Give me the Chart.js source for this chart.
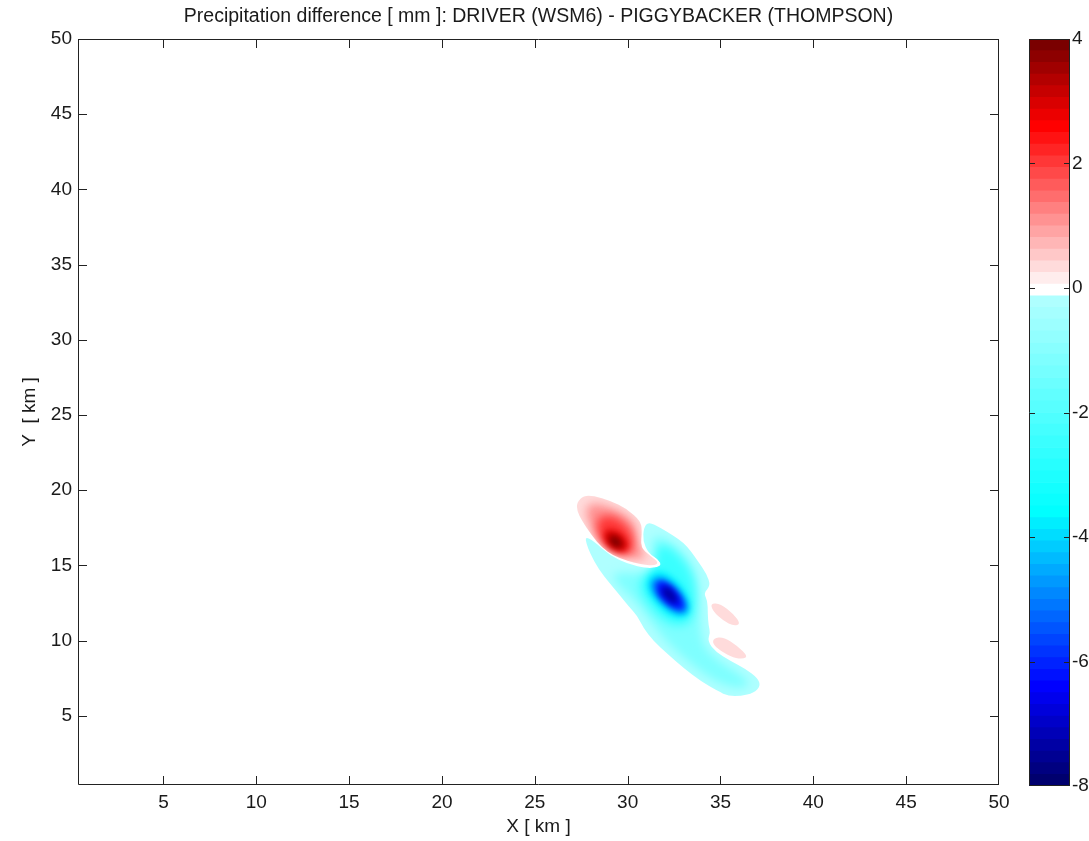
<!DOCTYPE html>
<html>
<head>
<meta charset="utf-8">
<title>Precipitation difference</title>
<script src="https://cdn.jsdelivr.net/npm/chart.js@4.4.1/dist/chart.umd.min.js"></script>
<style>
  html, body { margin: 0; padding: 0; background: #fff; }
  #wrap { position: relative; width: 1089px; height: 841px; overflow: hidden; }
  #field { position: absolute; left: 0; top: 0; }
  #bar { position: absolute; left: 1010px; top: 0; }
</style>
</head>
<body>
<div id="wrap">
  <canvas id="field" width="1010" height="841"></canvas>
  <canvas id="bar" width="79" height="841"></canvas>
</div>
<script>
// axis ticks
const xTicks = [5, 10, 15, 20, 25, 30, 35, 40, 45, 50]
const yTicks = [5, 10, 15, 20, 25, 30, 35, 40, 45, 50]
const barTicks = [-8, -6, -4, -2, 0, 2, 4]

// colour scale: 64 contour levels between -8 and 4 mm
const levelMin = -8
const levelMax = 4
const levelCount = 64

// positive difference cell (outer contour first, then towards the core)
const redLevels = [0.3, 1.0, 2.0, 3.0, 3.9]
const redRing0 = [[27.27, 19.19], [27.63, 19.63], [28.17, 19.63], [29.07, 19.30], [29.97, 18.75], [30.69, 17.97], [30.78, 17.30], [30.69, 16.19], [31.23, 15.64], [31.68, 15.19], [31.41, 14.97], [30.69, 15.08], [29.97, 15.30], [29.25, 15.64], [28.62, 16.19], [28.08, 16.97], [27.54, 17.97], [27.27, 18.63]]
const redRing1 = [[27.78, 18.97], [28.32, 19.17], [29.18, 18.83], [29.99, 18.30], [30.48, 17.63], [30.48, 16.50], [31.01, 15.57], [30.69, 15.37], [29.88, 15.57], [29.18, 15.90], [28.53, 16.50], [28.10, 17.30], [27.78, 18.23]]
const redRing2 = [[28.42, 18.30], [29.34, 18.30], [30.15, 17.44], [30.37, 16.50], [30.15, 15.64], [29.34, 15.84], [28.64, 16.44], [28.32, 17.30]]
const redRing3 = [[28.80, 17.44], [29.61, 17.24], [30.10, 16.37], [29.83, 15.84], [29.07, 16.10], [28.69, 16.77]]
const redRing4 = [[29.02, 17.03], [29.50, 16.90], [29.77, 16.30], [29.45, 16.10], [29.02, 16.50]]

// negative difference band
const cyanLevels = [-0.2, -1.2, -2.5, -3.8, -5.0, -6.3, -7.4]
const cyanRing0 = [[27.72, 16.90], [28.15, 16.64], [29.07, 15.64], [29.99, 15.10], [31.07, 14.78], [31.85, 14.93], [31.66, 15.42], [31.12, 15.80], [30.82, 16.64], [30.87, 17.50], [31.12, 17.90], [31.77, 17.50], [32.47, 16.97], [33.01, 16.50], [33.39, 15.97], [33.77, 15.30], [34.25, 14.44], [34.47, 13.64], [34.09, 13.17], [34.31, 12.64], [34.31, 11.84], [34.36, 10.97], [34.45, 10.55], [34.30, 9.95], [34.75, 9.25], [35.55, 8.64], [36.36, 8.11], [37.00, 7.51], [37.16, 6.98], [36.79, 6.51], [36.09, 6.31], [35.44, 6.31], [34.85, 6.64], [33.93, 7.31], [33.01, 8.18], [32.15, 9.11], [31.39, 9.97], [30.85, 10.84], [30.53, 11.64], [30.04, 12.30], [29.61, 12.97], [29.07, 13.77], [28.42, 14.77], [27.99, 15.77], [27.78, 16.44]]
const cyanRing1 = [[29.07, 14.50], [30.15, 14.50], [31.12, 14.50], [31.61, 15.30], [31.23, 16.77], [31.77, 16.97], [32.58, 16.30], [33.28, 15.44], [33.71, 14.31], [33.82, 12.97], [33.88, 11.30], [34.04, 9.64], [34.90, 8.64], [36.20, 7.64], [36.63, 7.05], [35.98, 6.78], [35.01, 7.11], [33.93, 7.91], [32.85, 9.04], [31.88, 10.18], [31.12, 11.50], [30.42, 12.64], [29.61, 13.51]]
const cyanRing2 = [[30.80, 14.30], [31.61, 14.97], [31.50, 16.30], [32.20, 16.30], [33.07, 15.30], [33.61, 13.97], [33.66, 12.31], [33.39, 11.17], [32.58, 10.91], [31.77, 11.44], [31.12, 12.31], [30.58, 13.44]]
const cyanRing3 = [[31.12, 14.30], [31.77, 14.77], [32.85, 13.84], [33.44, 12.44], [33.17, 11.50], [32.31, 11.57], [31.50, 12.50], [31.01, 13.44]]
const cyanRing4 = [[31.34, 14.10], [31.93, 14.24], [32.85, 13.31], [33.33, 12.11], [32.96, 11.70], [32.20, 12.11], [31.50, 12.97], [31.23, 13.64]]
const cyanRing5 = [[31.55, 13.97], [32.04, 13.97], [32.85, 13.04], [33.12, 12.17], [32.74, 11.97], [32.09, 12.44], [31.55, 13.17]]
const cyanRing6 = [[31.88, 13.64], [32.31, 13.51], [32.74, 12.77], [32.63, 12.37], [32.20, 12.64], [31.82, 13.17]]

// two weak positive patches east of the band
const patchLevels = [0.3, 0.3]
const pinkPatchA = [[34.47, 12.50], [35.01, 12.44], [35.71, 11.77], [36.09, 11.10], [35.71, 10.97], [35.17, 11.30], [34.58, 11.97]]
const pinkPatchB = [[34.63, 10.17], [35.17, 10.24], [35.92, 9.64], [36.46, 8.98], [36.25, 8.78], [35.71, 8.84], [35.01, 9.31], [34.58, 9.78]]

const redRings = [redRing0, redRing1, redRing2, redRing3, redRing4]
const cyanRings = [cyanRing0, cyanRing1, cyanRing2, cyanRing3, cyanRing4, cyanRing5, cyanRing6]

const fontFamily = "'Liberation Sans', Arial, Helvetica, sans-serif"
const textColor = '#1a1a1a'
const lineColor = '#222'
const tickFont = { family: fontFamily, size: 19 }

const bandSize = (levelMax - levelMin) / levelCount
const zeroBand = Math.floor(-levelMin / bandSize - 0.5)

// blue -> cyan -> white -> red -> dark red
function bandColor (k) {
  let r, g, b
  if (k === zeroBand) return 'rgb(255,255,255)'
  if (k > zeroBand) {
    if (k <= zeroBand + 14) {
      g = Math.round(255 * (1 - (k - zeroBand) / 14))
      r = 255; b = g
    } else {
      r = 255 - (k - zeroBand - 14) * 19; g = 0; b = 0
    }
  } else if (k >= 23) {
    r = Math.round(175 * (k - 23) / (zeroBand - 1 - 23)); g = 255; b = 255
  } else if (k >= 8) {
    r = 0; g = Math.round(255 * (k - 8) / 15); b = 255
  } else {
    r = 0; g = 0; b = Math.round(110 + 145 * k / 8)
  }
  return `rgb(${r},${g},${b})`
}

function levelColor (v) {
  const k = Math.max(0, Math.min(levelCount - 1, Math.floor((v - levelMin) / bandSize)))
  return bandColor(k)
}

// one scatter dataset per contour ring, grouped by region
const toPoints = ring => ring.map(([x, y]) => ({ x, y }))
const datasets = []
redRings.forEach((ring, i) => datasets.push({ data: toPoints(ring), level: redLevels[i], region: 'red' }))
cyanRings.forEach((ring, i) => datasets.push({ data: toPoints(ring), level: cyanLevels[i], region: 'cyan' }))
;[pinkPatchA, pinkPatchB].forEach((ring, i) => datasets.push({ data: toPoints(ring), level: patchLevels[i], region: 'patch' + i }))
datasets.forEach(ds => { ds.pointRadius = 0; ds.showLine = false })

// closed smooth outline through the edge midpoints
function tracePath (ctx, pts) {
  const n = pts.length
  const mid = (a, b) => ({ x: (a.x + b.x) / 2, y: (a.y + b.y) / 2 })
  const start = mid(pts[n - 1], pts[0])
  ctx.moveTo(start.x, start.y)
  for (let i = 0; i < n; i++) {
    const m = mid(pts[i], pts[(i + 1) % n])
    ctx.quadraticCurveTo(pts[i].x, pts[i].y, m.x, m.y)
  }
  ctx.closePath()
}

const contourFill = {
  id: 'contourFill',
  beforeDatasetsDraw (chart) {
    const { ctx, chartArea: a } = chart
    const regions = {}
    chart.data.datasets.forEach((ds, i) => {
      (regions[ds.region] = regions[ds.region] || []).push({ level: ds.level, pts: chart.getDatasetMeta(i).data })
    })
    ctx.save()
    ctx.beginPath()
    ctx.rect(a.left, a.top, a.width, a.height)
    ctx.clip()
    Object.values(regions).forEach(rings => {
      ctx.save()
      ctx.beginPath()
      tracePath(ctx, rings[0].pts)
      ctx.fillStyle = levelColor(rings[0].level)
      ctx.fill()
      ctx.clip()
      // inner levels are softened so the many thin bands blend together
      rings.slice(1).forEach((r, i) => {
        ctx.filter = i < 2 ? 'blur(5px)' : 'blur(3px)'
        ctx.beginPath()
        tracePath(ctx, r.pts)
        ctx.fillStyle = levelColor(r.level)
        ctx.fill()
      })
      ctx.restore()
    })
    ctx.restore()
  }
}

// box with inward tick marks on all four sides
const frameTicks = {
  id: 'frameTicks',
  afterDraw (chart) {
    const { ctx, chartArea: a, scales: { x, y } } = chart
    const len = 9
    ctx.save()
    ctx.strokeStyle = lineColor
    ctx.lineWidth = 1
    ctx.beginPath()
    ctx.rect(Math.round(a.left) + 0.5, Math.round(a.top) + 0.5, Math.round(a.right - a.left) - 1, Math.round(a.bottom - a.top) - 1)
    xTicks.forEach(v => {
      const px = Math.min(Math.round(x.getPixelForValue(v)), Math.round(a.right) - 1) + 0.5
      ctx.moveTo(px, a.bottom); ctx.lineTo(px, a.bottom - len)
      ctx.moveTo(px, a.top); ctx.lineTo(px, a.top + len)
    })
    yTicks.forEach(v => {
      const py = Math.max(Math.round(y.getPixelForValue(v)), Math.round(a.top)) + 0.5
      ctx.moveTo(a.left, py); ctx.lineTo(a.left + len, py)
      ctx.moveTo(a.right, py); ctx.lineTo(a.right - len, py)
    })
    ctx.stroke()
    ctx.restore()
  }
}

// keep the plot box fixed: labels may hang past its edges
const noOverhang = s => { s.paddingLeft = 0; s.paddingRight = 0; s.paddingTop = 0; s.paddingBottom = 0 }

new Chart(document.getElementById('field'), {
  type: 'scatter',
  data: { datasets },
  options: {
    responsive: false,
    animation: false,
    events: [],
    layout: { padding: { left: 0, right: 11, top: 0, bottom: 0 } },
    plugins: {
      legend: { display: false },
      tooltip: { enabled: false },
      title: {
        display: true,
        fullSize: false,
        text: 'Precipitation difference [ mm ]: DRIVER (WSM6) - PIGGYBACKER (THOMPSON)',
        color: textColor,
        font: { family: fontFamily, size: 19.5, weight: 'normal' },
        padding: { top: 5.3, bottom: 10.3 }
      }
    },
    scales: {
      x: {
        type: 'linear',
        min: 0.4,
        max: 50,
        grid: { display: false, drawTicks: false },
        border: { display: false },
        afterBuildTicks: s => { s.ticks = xTicks.map(v => ({ value: v })) },
        afterFit: s => { s.height = 56; noOverhang(s) },
        ticks: { padding: 6, color: textColor, font: tickFont, maxRotation: 0 },
        title: { display: true, text: 'X [ km ]', color: textColor, font: tickFont, padding: { top: 0, bottom: 3 } }
      },
      y: {
        type: 'linear',
        min: 0.4,
        max: 50,
        grid: { display: false, drawTicks: false },
        border: { display: false },
        afterBuildTicks: s => { s.ticks = yTicks.map(v => ({ value: v })) },
        afterFit: s => { s.width = 78; noOverhang(s) },
        ticks: { padding: 6, color: textColor, font: tickFont },
        title: { display: true, text: 'Y  [ km ]', color: textColor, font: tickFont, padding: { top: 18.3, bottom: 0 } }
      }
    }
  },
  plugins: [contourFill, frameTicks]
})

// colour bar: one floating bar per contour band
const bands = []
for (let k = 0; k < levelCount; k++) {
  bands.push({
    data: [[levelMin + k * bandSize, levelMin + (k + 1) * bandSize]],
    backgroundColor: bandColor(k),
    borderWidth: 0,
    grouped: false,
    barPercentage: 1,
    categoryPercentage: 1
  })
}

const barFrame = {
  id: 'barFrame',
  afterDraw (chart) {
    const { ctx, chartArea: a, scales: { y } } = chart
    const len = 6
    ctx.save()
    ctx.strokeStyle = lineColor
    ctx.lineWidth = 1
    ctx.beginPath()
    ctx.rect(Math.round(a.left) + 0.5, Math.round(a.top) + 0.5, Math.round(a.right - a.left) - 1, Math.round(a.bottom - a.top) - 1)
    barTicks.slice(1, -1).forEach(v => {
      const py = Math.round(y.getPixelForValue(v)) + 0.5
      ctx.moveTo(a.left, py); ctx.lineTo(a.left + len, py)
      ctx.moveTo(a.right, py); ctx.lineTo(a.right - len, py)
    })
    ctx.stroke()
    ctx.restore()
  }
}

new Chart(document.getElementById('bar'), {
  type: 'bar',
  data: { labels: [''], datasets: bands },
  options: {
    responsive: false,
    animation: false,
    events: [],
    layout: { padding: { left: 19, right: 0, top: 39, bottom: 55 } },
    plugins: { legend: { display: false }, tooltip: { enabled: false } },
    scales: {
      x: { display: false },
      y: {
        position: 'right',
        min: levelMin,
        max: levelMax,
        grid: { display: false, drawTicks: false },
        border: { display: false },
        afterBuildTicks: s => { s.ticks = barTicks.map(v => ({ value: v })) },
        afterFit: s => { s.width = 19; noOverhang(s) },
        ticks: { padding: 2, color: textColor, font: tickFont }
      }
    }
  },
  plugins: [barFrame]
})
</script>
</body>
</html>
